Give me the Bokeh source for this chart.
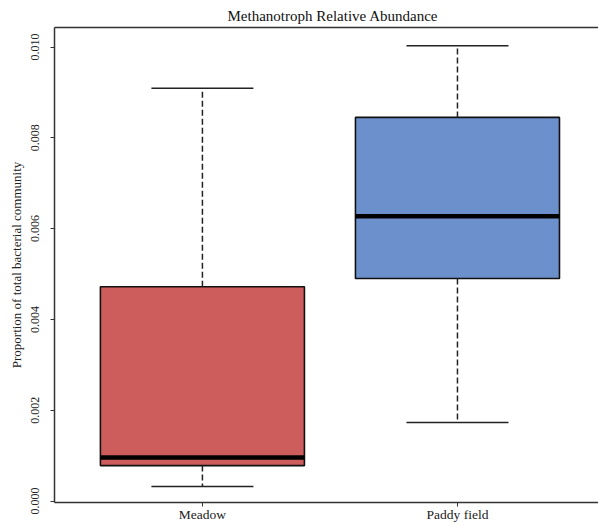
import numpy as np
from bokeh.plotting import figure
from bokeh.models import LinearAxis, FixedTicker, Range1d, ColumnDataSource
from bokeh.embed import file_html
from bokeh.resources import INLINE

# ---- data ----
categories = ["Meadow", "Paddy field"]
lower_whisker = [0.00032, 0.00173]
q1 = [0.00078, 0.00490]
median = [0.00096, 0.00627]
q3 = [0.00472, 0.00845]
upper_whisker = [0.00909, 0.01003]
box_colors = ["#CD5C5C", "#6C90CC"]
y_ticks = [0.0, 0.002, 0.004, 0.006, 0.008, 0.010]
y_tick_labels = ["0.000", "0.002", "0.004", "0.006", "0.008", "0.010"]

FONT = "Liberation Serif"
AX = "#333333"

xpos = np.arange(1, len(categories) + 1, dtype=float)
box_half = 0.4
cap_half = 0.2

src = ColumnDataSource(dict(
    x=xpos,
    left=xpos - box_half,
    right=xpos + box_half,
    cap_l=xpos - cap_half,
    cap_r=xpos + cap_half,
    lower=lower_whisker,
    q1=q1,
    med=median,
    q3=q3,
    upper=upper_whisker,
    color=box_colors,
))

p = figure(
    width=598, height=526,
    x_range=Range1d(0.42, 2.553),
    y_range=Range1d(-0.000033, 0.01043),
    output_backend="svg", toolbar_location=None,
    title="Methanotroph Relative Abundance",
    min_border_left=54, min_border_right=0,
    min_border_top=27, min_border_bottom=24,
)
p.outline_line_color = None
p.background_fill_color = "white"
p.border_fill_color = "white"
p.xgrid.visible = False
p.ygrid.visible = False

p.title.text_font = FONT
p.title.text_font_size = "15px"
p.title.text_font_style = "normal"
p.title.text_color = "#111111"
p.title.align = "left"
p.title.offset = 173
p.title.standoff = 8

# boxes
p.quad(left="left", right="right", bottom="q1", top="q3", source=src,
       fill_color="color", line_color="#111111", line_width=1.6)
# medians
p.segment(x0="left", x1="right", y0="med", y1="med", source=src,
          line_color="black", line_width=4.5, line_cap="butt")
# whiskers
p.segment(x0="x", x1="x", y0="q3", y1="upper", source=src,
          line_color="#222222", line_width=1.5, line_dash="6 3")
p.segment(x0="x", x1="x", y0="q1", y1="lower", source=src,
          line_color="#222222", line_width=1.5, line_dash="6 3")
# caps
p.segment(x0="cap_l", x1="cap_r", y0="upper", y1="upper", source=src,
          line_color="#222222", line_width=1.5)
p.segment(x0="cap_l", x1="cap_r", y0="lower", y1="lower", source=src,
          line_color="#222222", line_width=1.5)

# y axis
ya = p.yaxis[0]
ya.ticker = FixedTicker(ticks=y_ticks)
ya.major_label_overrides = {t: l for t, l in zip(y_ticks, y_tick_labels)}
ya.major_label_orientation = "vertical"
ya.major_label_text_font = FONT
ya.major_label_text_font_size = "12px"
ya.major_label_text_color = "#222222"
ya.major_label_standoff = 11
ya.major_tick_in = 0
ya.major_tick_out = 4
ya.minor_tick_line_color = None
ya.major_tick_line_color = AX
ya.axis_line_color = AX
ya.axis_line_width = 1.5
ya.axis_label = "Proportion of total bacterial community"
ya.axis_label_text_font = FONT
ya.axis_label_text_font_size = "13px"
ya.axis_label_text_font_style = "normal"
ya.axis_label_text_color = "#222222"
ya.axis_label_standoff = 5

# x axis
xa = p.xaxis[0]
xa.ticker = FixedTicker(ticks=list(xpos))
xa.major_label_overrides = {float(x): c for x, c in zip(xpos, categories)}
xa.major_label_text_font = FONT
xa.major_label_text_font_size = "13.5px"
xa.major_label_text_color = "#222222"
xa.major_label_standoff = 0
xa.major_tick_in = 0
xa.major_tick_out = 4
xa.minor_tick_line_color = None
xa.major_tick_line_color = AX
xa.axis_line_color = AX
xa.axis_line_width = 1.5

# top border line as an empty axis
top = LinearAxis(ticker=FixedTicker(ticks=[]), major_tick_out=0, major_tick_in=0,
                 minor_tick_out=0, minor_tick_in=0, major_label_standoff=0,
                 major_label_text_font_size="0px", axis_line_color=AX,
                 axis_line_width=1.5)
p.add_layout(top, "above")

open("out.html", "w").write(file_html(p, INLINE))
